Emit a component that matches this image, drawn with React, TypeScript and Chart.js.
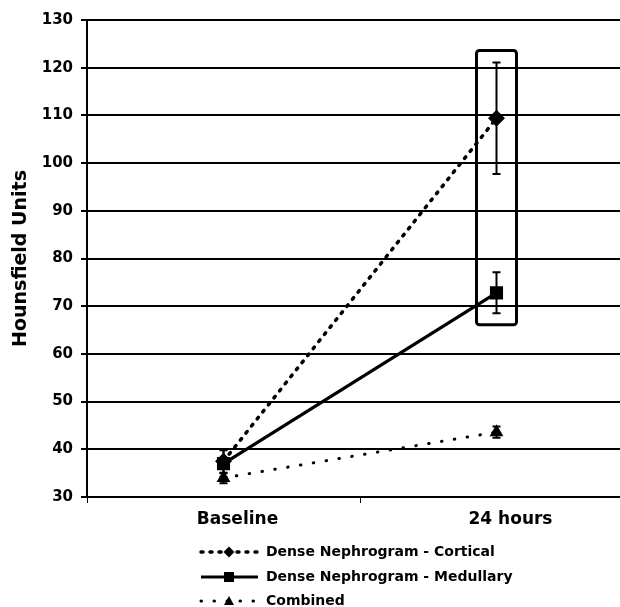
import React, { useEffect, useRef } from "react";
import { Chart, registerables } from "chart.js";

Chart.register(...registerables);

const categories = ["Baseline", "24 hours"];
const seriesNames = [
  "Dense Nephrogram - Cortical",
  "Dense Nephrogram - Medullary",
  "Combined",
];
const cortical = [37.5, 109.4];
const corticalErr = [2.5, 11.7];
const medullary = [37.0, 72.8];
const medullaryErr = [2.8, 4.3];
const combined = [34.0, 43.6];
const combinedErr = [1.1, 1.2];
const yTicks = [30, 40, 50, 60, 70, 80, 90, 100, 110, 120, 130];
const boxRange = [66.1, 123.6];

const FONT = "'DejaVu Sans', sans-serif";

const errors = [corticalErr, medullaryErr, combinedErr];

function drawMarker(ctx: CanvasRenderingContext2D, style: string, x: number, y: number) {
  ctx.beginPath();
  if (style === "rectRot") {
    const s = 5.5;
    ctx.moveTo(x, y - s);
    ctx.lineTo(x + s, y);
    ctx.lineTo(x, y + s);
    ctx.lineTo(x - s, y);
    ctx.closePath();
  } else if (style === "rect") {
    const s = 5;
    ctx.rect(x - s, y - s, 2 * s, 2 * s);
  } else {
    const s = 5;
    ctx.moveTo(x, y - s);
    ctx.lineTo(x + s, y + s * 0.8);
    ctx.lineTo(x - s, y + s * 0.8);
    ctx.closePath();
  }
  ctx.fill();
}

const overlayPlugin = {
  id: "overlay",
  afterDatasetsDraw(chart: any) {
    const ctx: CanvasRenderingContext2D = chart.ctx;
    const y = chart.scales.y;
    const x = chart.scales.x;
    ctx.save();
    ctx.strokeStyle = "#000";
    ctx.lineWidth = 2;
    chart.data.datasets.forEach((ds: any, i: number) => {
      const meta = chart.getDatasetMeta(i);
      meta.data.forEach((pt: any, j: number) => {
        const v = ds.data[j];
        const e = errors[i][j];
        const top = y.getPixelForValue(v + e);
        const bot = y.getPixelForValue(v - e);
        ctx.beginPath();
        ctx.moveTo(pt.x, top);
        ctx.lineTo(pt.x, bot);
        ctx.moveTo(pt.x - 4, top);
        ctx.lineTo(pt.x + 4, top);
        ctx.moveTo(pt.x - 4, bot);
        ctx.lineTo(pt.x + 4, bot);
        ctx.stroke();
      });
    });
    // highlight box around 24 hours
    const cx = x.getPixelForValue(1);
    const top = y.getPixelForValue(boxRange[1]);
    const bot = y.getPixelForValue(boxRange[0]);
    ctx.lineWidth = 3;
    ctx.beginPath();
    (ctx as any).roundRect(cx - 20, top, 40, bot - top, 3);
    ctx.stroke();
    ctx.restore();
  },
  afterDraw(chart: any) {
    const ctx: CanvasRenderingContext2D = chart.ctx;
    const rows = [552, 577, 601];
    const styles = [
      { dash: [2, 7], width: 3.5, marker: "rectRot" },
      { dash: [], width: 3, marker: "rect" },
      { dash: [0.5, 12.5], width: 3, marker: "triangle" },
    ];
    ctx.save();
    rows.forEach((ry, i) => {
      const st = styles[i];
      ctx.strokeStyle = "#000";
      ctx.fillStyle = "#000";
      ctx.lineWidth = st.width;
      ctx.lineCap = st.dash.length ? "round" : "butt";
      ctx.setLineDash(st.dash);
      ctx.beginPath();
      ctx.moveTo(201, ry);
      ctx.lineTo(258, ry);
      ctx.stroke();
      ctx.setLineDash([]);
      drawMarker(ctx, st.marker, 229, ry);
      ctx.font = `bold 14px ${FONT}`;
      ctx.textBaseline = "middle";
      ctx.textAlign = "left";
      ctx.fillText(seriesNames[i], 266, ry);
    });
    ctx.restore();
  },
};

export default function App() {
  const ref = useRef<HTMLCanvasElement | null>(null);
  useEffect(() => {
    if (!ref.current) return;
    const chart = new Chart(ref.current, {
      type: "line",
      data: {
        labels: categories,
        datasets: [
          {
            label: seriesNames[0],
            data: cortical,
            borderColor: "#000",
            backgroundColor: "#000",
            borderWidth: 3.5,
            borderDash: [2, 7],
            borderCapStyle: "round",
            pointStyle: "rectRot",
            pointRadius: 6,
            tension: 0,
            order: 2,
          },
          {
            label: seriesNames[1],
            data: medullary,
            borderColor: "#000",
            backgroundColor: "#000",
            borderWidth: 3.2,
            pointStyle: "rect",
            pointRadius: 7,
            tension: 0,
            order: 1,
          },
          {
            label: seriesNames[2],
            data: combined,
            borderColor: "#000",
            backgroundColor: "#000",
            borderWidth: 3,
            borderDash: [0.5, 12.5],
            borderCapStyle: "round",
            pointStyle: "triangle",
            pointRadius: 5,
            tension: 0,
            order: 3,
          },
        ],
      },
      options: {
        animation: false,
        responsive: false,
        layout: { padding: { left: 0, right: 12, top: 20, bottom: 70 } },
        plugins: {
          legend: { display: false },
          tooltip: { enabled: false },
        },
        scales: {
          x: {
            offset: true,
            afterFit(scale: any) {
              scale.height = 40;
            },
            grid: {
              offset: true,
              drawOnChartArea: false,
              drawTicks: true,
              tickLength: 6,
              color: "#000",
              lineWidth: 1,
            },
            border: { display: true, color: "#000", width: 2 },
            ticks: {
              color: "#000",
              font: { family: FONT, size: 17, weight: "bold" },
              padding: 6,
              labelOffset: 14,
              maxRotation: 0,
            },
          },
          y: {
            min: 30,
            max: 130,
            afterFit(scale: any) {
              scale.width = 87;
            },
            afterBuildTicks(scale: any) {
              scale.ticks = yTicks.map((v) => ({ value: v }));
            },
            grid: {
              color: "#000",
              lineWidth: 2,
              drawTicks: true,
              tickLength: 6,
            },
            border: { display: true, color: "#000", width: 2 },
            ticks: {
              color: "#000",
              font: { family: FONT, size: 15, weight: "bold" },
              padding: 8,
            },
            title: {
              display: true,
              text: "Hounsfield Units",
              color: "#000",
              font: { family: FONT, size: 19, weight: "bold" },
              padding: { top: 10, bottom: 0 },
            },
          },
        },
      },
      plugins: [overlayPlugin],
    });
    return () => chart.destroy();
  }, []);
  return (
    <div
      style={{
        position: "fixed",
        left: 0,
        top: 0,
        width: 620,
        height: 607,
        overflow: "hidden",
        background: "#fff",
      }}
    >
      <canvas ref={ref} width={645} height={607} style={{ width: 645, height: 607, display: "block" }} />
    </div>
  );
}
